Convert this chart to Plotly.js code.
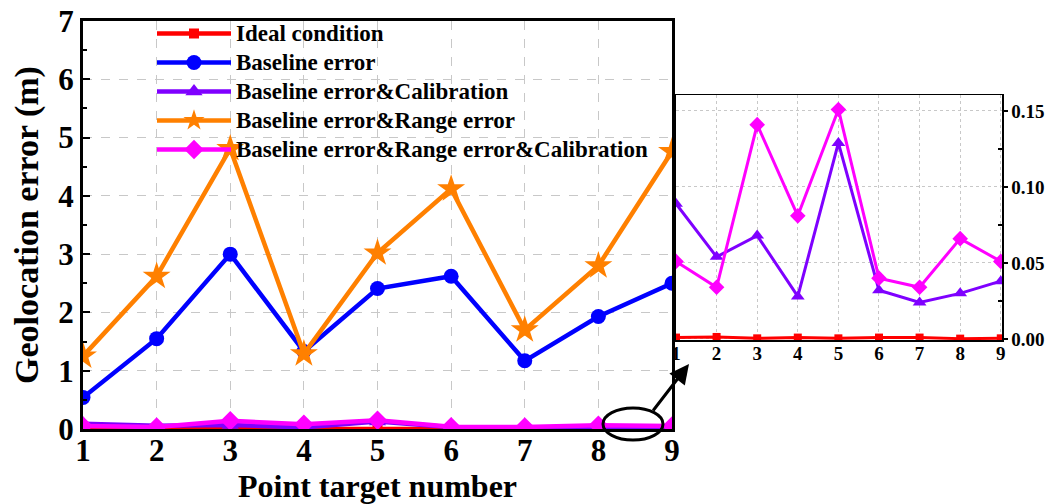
<!DOCTYPE html>
<html>
<head>
<meta charset="utf-8">
<script src="https://cdn.plot.ly/plotly-3.0.1.min.js"></script>
<style>
  html, body { margin: 0; padding: 0; background: #ffffff; }
  #chart { width: 1054px; height: 504px; }
</style>
</head>
<body>
<div id="chart"></div>
<script>
// Point targets 1..9
const targets = [1, 2, 3, 4, 5, 6, 7, 8, 9];

// Geolocation error (m) for each processing condition
const idealCondition   = [0.0009, 0.0013, 0.0004, 0.0009, 0.0004, 0.0009, 0.0009, 0.0002, 0.0004];
const baselineError    = [0.54, 1.55, 3.00, 1.33, 2.41, 2.62, 1.17, 1.93, 2.50];
const baselineCalib    = [0.089, 0.054, 0.068, 0.028, 0.129, 0.032, 0.024, 0.030, 0.038];
const baselineRange    = [1.25, 2.62, 4.81, 1.29, 3.02, 4.12, 1.70, 2.80, 4.76];
const baselineRangeCal = [0.051, 0.034, 0.141, 0.081, 0.151, 0.040, 0.034, 0.066, 0.051];

const seriesNames = [
  'Ideal condition',
  'Baseline error',
  'Baseline error&Calibration',
  'Baseline error&Range error',
  'Baseline error&Range error&Calibration'
];

const FONT = 'Liberation Serif, Times New Roman, serif';

const styles = [
  { color: '#ff0000', symbol: 'square',  size: 10, insetSize: 8 },
  { color: '#0000ff', symbol: 'circle',  size: 15, insetSize: 10 },
  { color: '#7f00ff', symbol: 'triangle-up', size: 15, insetSize: 12 },
  { color: '#ff8000', symbol: 'star',    size: 21, insetSize: 14 },
  { color: '#ff00ff', symbol: 'diamond', size: 15, insetSize: 12 }
];

const allSeries = [idealCondition, baselineError, baselineCalib, baselineRange, baselineRangeCal];

// legend labels are set slightly larger than the row pitch font
const legendLabel = s => '<span style="font-size:23px">' + s + '</span>';

const traces = [];
// Main panel: all five conditions
allSeries.forEach((vals, i) => {
  traces.push({
    type: 'scatter', mode: 'lines+markers',
    x: targets, y: vals, name: legendLabel(seriesNames[i]),
    xaxis: 'x', yaxis: 'y',
    line: { color: styles[i].color, width: 4.5 },
    marker: { color: styles[i].color, symbol: styles[i].symbol, size: styles[i].size },
    showlegend: true
  });
});
// Zoomed panel: the three small-error conditions
[0, 2, 4].forEach(i => {
  traces.push({
    type: 'scatter', mode: 'lines+markers',
    x: targets, y: allSeries[i], name: seriesNames[i],
    xaxis: 'x2', yaxis: 'y2',
    line: { color: styles[i].color, width: 3 },
    marker: { color: styles[i].color, symbol: styles[i].symbol, size: styles[i].insetSize },
    showlegend: false
  });
});

const W = 1054, H = 504;
const px = v => v / W;
const py = v => (H - v) / H;

const layout = {
  width: W, height: H,
  margin: { l: 0, r: 0, t: 0, b: 0 },
  paper_bgcolor: '#ffffff',
  plot_bgcolor: 'rgba(0,0,0,0)',
  font: { family: FONT, color: '#000000', weight: 'bold' },
  showlegend: true,
  legend: {
    x: px(152), y: py(14), xanchor: 'left', yanchor: 'top',
    bgcolor: 'rgba(0,0,0,0)', borderwidth: 0,
    itemwidth: 74,
    font: { family: FONT, size: 20, color: '#000000', weight: 'bold' },
    tracegroupgap: 0
  },
  xaxis: {
    domain: [px(83), px(672)],
    range: [1, 9],
    anchor: 'y',
    tickvals: targets,
    ticks: '',
    ticklabelstandoff: -8,
    tickfont: { family: FONT, size: 31, weight: 'bold' },
    showline: true, linecolor: '#000000', linewidth: 3, mirror: true,
    showgrid: true, gridcolor: '#c8c8c8', gridwidth: 1, griddash: 'dash',
    zeroline: false,
    title: { text: 'Point target number', font: { family: FONT, size: 32, weight: 'bold' }, standoff: 14 }
  },
  yaxis: {
    domain: [py(429), py(21)],
    range: [0, 7],
    anchor: 'x',
    dtick: 1,
    ticks: 'inside', ticklen: 7, tickwidth: 2, tickcolor: '#000000',
    minor: { dtick: 0.5, ticks: 'inside', ticklen: 4, tickwidth: 2, tickcolor: '#000000', showgrid: false },
    tickfont: { family: FONT, size: 31, weight: 'bold' },
    ticklabelstandoff: 0,
    showline: true, linecolor: '#000000', linewidth: 3, mirror: true,
    showgrid: true, gridcolor: '#c8c8c8', gridwidth: 1, griddash: 'dash',
    zeroline: false,
    title: { text: 'Geolocation error (m)', font: { family: FONT, size: 34, weight: 'bold' }, standoff: 10 }
  },
  xaxis2: {
    domain: [px(676), px(1002)],
    range: [1, 9.03],
    anchor: 'y2',
    tickvals: targets,
    ticks: '',
    ticklabelstandoff: -4,
    tickfont: { family: FONT, size: 19, weight: 'bold' },
    showline: true, linecolor: '#000000', linewidth: 1.5, mirror: true,
    showgrid: true, gridcolor: '#c8c8c8', gridwidth: 1, griddash: 'dot',
    zeroline: false
  },
  yaxis2: {
    domain: [py(340), py(95)],
    range: [-0.0007, 0.1605],
    anchor: 'x2', side: 'right',
    tickvals: [0, 0.05, 0.10, 0.15],
    ticktext: ['0.00', '0.05', '0.10', '0.15'],
    ticks: 'outside', ticklen: 4, tickwidth: 1.5, tickcolor: '#000000',
    minor: { tickvals: [0.025, 0.075, 0.125], ticks: 'inside', ticklen: 4, tickwidth: 1.5, tickcolor: '#000000', showgrid: false },
    tickfont: { family: FONT, size: 19, weight: 'bold' },
    ticklabelstandoff: 0,
    showline: true, linecolor: '#000000', linewidth: 1.5, mirror: true,
    showgrid: true, gridcolor: '#c8c8c8', gridwidth: 1, griddash: 'dot',
    zeroline: false
  },
  shapes: [
    // ring around the near-zero curves at targets 8-9
    {
      type: 'circle', xref: 'paper', yref: 'paper',
      x0: px(603), x1: px(663), y0: py(440), y1: py(408),
      line: { color: '#000000', width: 3 }, fillcolor: 'rgba(0,0,0,0)'
    }
  ],
  annotations: [
    // pointer to the zoomed panel
    {
      xref: 'paper', yref: 'paper',
      x: px(689), y: py(364),
      text: '', showarrow: true,
      ax: -37, ay: 48,
      arrowhead: 2, arrowsize: 1.3, arrowwidth: 3, arrowcolor: '#000000',
      standoff: 0, startstandoff: 0
    }
  ]
};

Plotly.newPlot('chart', traces, layout, { displayModeBar: false, staticPlot: true });
</script>
</body>
</html>
